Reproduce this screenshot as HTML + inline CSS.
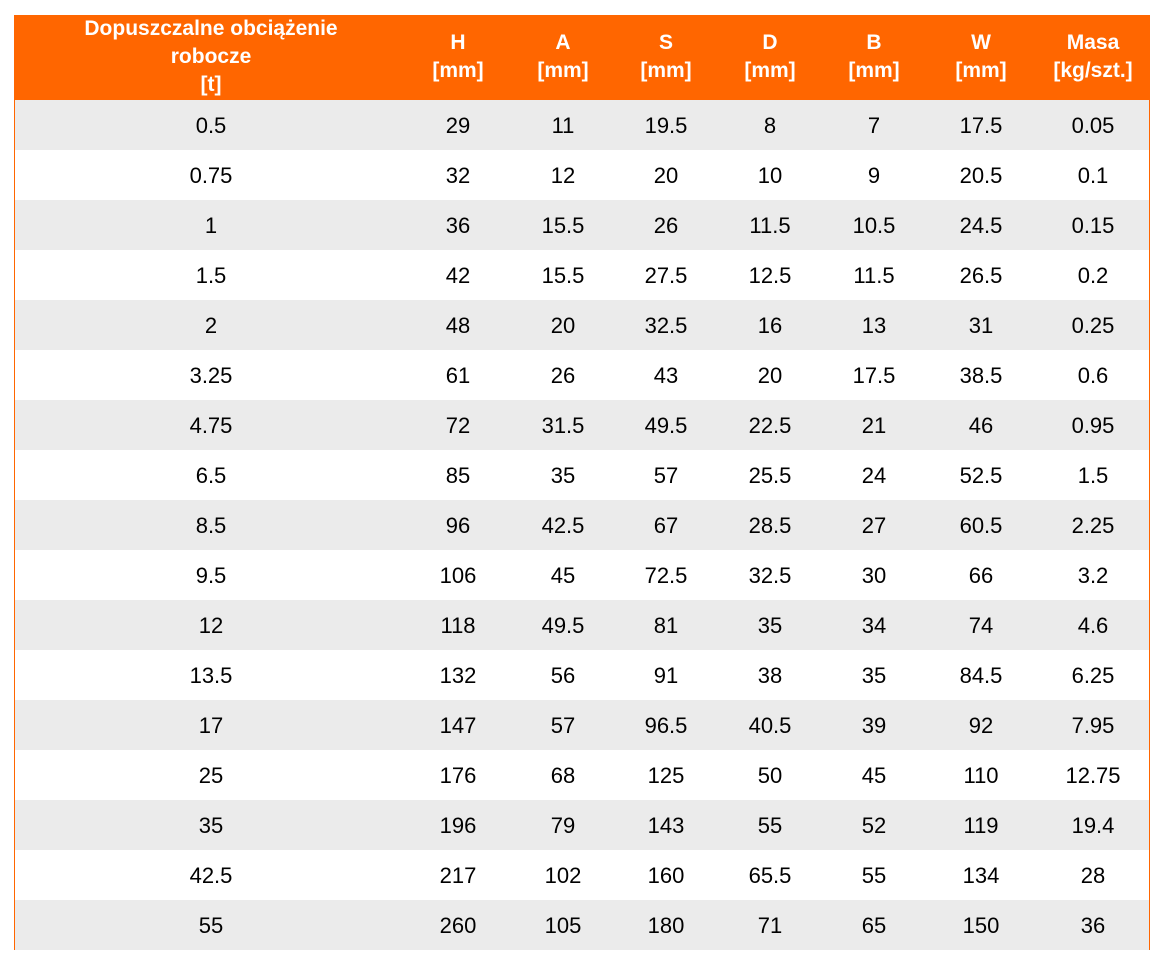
<!DOCTYPE html>
<html><head><meta charset="utf-8"><style>
body{margin:0;width:1164px;height:968px;background:#fff;position:relative;overflow:hidden;font-family:"Liberation Sans",Arial,sans-serif}
#tbl{position:absolute;left:14px;top:15px;width:1134px;height:933px;border:1px solid #ff6600;border-top:none;border-bottom:2px solid #ff6600}
.hdr{position:absolute;left:0;top:0;width:1134px;height:85px;background:#ff6600}
.row{position:absolute;left:0;width:1134px;height:50px}
.c{position:absolute;transform:translateX(-50%);text-align:center;white-space:nowrap;font-size:22px;line-height:26px;color:#000}
.h{color:#fff;font-weight:bold;font-size:21px;line-height:28px}
</style></head><body>
<div id="tbl">
<div class="hdr"></div>
</div>
<script>
const headers=[["Dopuszczalne obciążenie","robocze","[t]"],["H","[mm]"],["A","[mm]"],["S","[mm]"],["D","[mm]"],["B","[mm]"],["W","[mm]"],["Masa","[kg/szt.]"]];
const loads=["0.5","0.75","1","1.5","2","3.25","4.75","6.5","8.5","9.5","12","13.5","17","25","35","42.5","55"];
const colH=["29","32","36","42","48","61","72","85","96","106","118","132","147","176","196","217","260"];
const colA=["11","12","15.5","15.5","20","26","31.5","35","42.5","45","49.5","56","57","68","79","102","105"];
const colS=["19.5","20","26","27.5","32.5","43","49.5","57","67","72.5","81","91","96.5","125","143","160","180"];
const colD=["8","10","11.5","12.5","16","20","22.5","25.5","28.5","32.5","35","38","40.5","50","55","65.5","71"];
const colB=["7","9","10.5","11.5","13","17.5","21","24","27","30","34","35","39","45","52","55","65"];
const colW=["17.5","20.5","24.5","26.5","31","38.5","46","52.5","60.5","66","74","84.5","92","110","119","134","150"];
const colM=["0.05","0.1","0.15","0.2","0.25","0.6","0.95","1.5","2.25","3.2","4.6","6.25","7.95","12.75","19.4","28","36"];
const cols=[loads,colH,colA,colS,colD,colB,colW,colM];
const names=["load","h","a","s","d","b","w","mass"];
const centers=[196,443,548,651,755,859,966,1078];
const tbl=document.getElementById('tbl');
headers.forEach((lines,i)=>{
  const d=document.createElement('div');
  d.className='c h';
  
  
  d.style.left=centers[i]+'px';
  d.style.top=(lines.length===3?0:14)+'px';
  d.innerHTML=lines.join('<br>');
  tbl.appendChild(d);
});
loads.forEach((_,r)=>{
  const row=document.createElement('div');
  row.className='row';
  
  
  row.style.top=(85+r*50)+'px';
  row.style.background=r%2===0?'#ebebeb':'#fff';
  cols.forEach((col,i)=>{
    const c=document.createElement('div');
    c.className='c';
    
    
    c.style.left=centers[i]+'px';
    c.style.top='13px';
    c.textContent=col[r];
    row.appendChild(c);
  });
  tbl.appendChild(row);
});
</script>
</body></html>
